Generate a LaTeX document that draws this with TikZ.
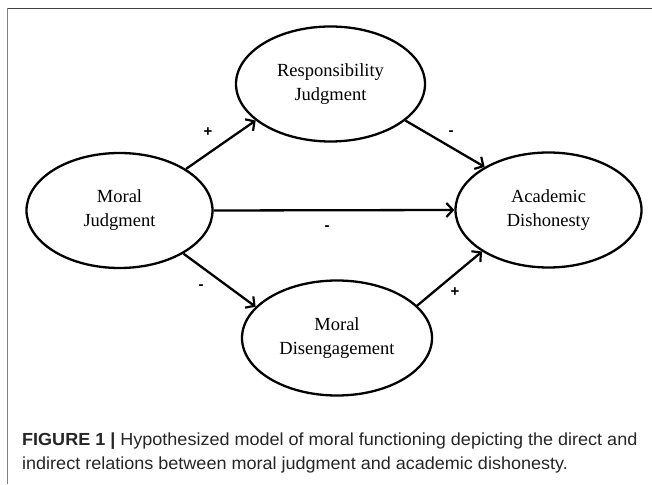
\documentclass[tikz,border=0pt]{standalone}
\usepackage{fontspec}
\setmainfont{Liberation Serif}
\newfontfamily\capfont{Liberation Sans}
\usetikzlibrary{arrows.meta,shapes.geometric}
\begin{document}
\begin{tikzpicture}[x=1pt,y=1pt,
  construct/.style={draw=black, line width=2.3pt, ellipse, inner sep=0pt,
    minimum width=186pt, minimum height=115pt, align=center,
    font=\fontsize{18.5}{24}\selectfont},
  link/.style={draw=black, line width=2.3pt,
    -{Straight Barb[length=6.5pt,width=14pt,line width=2.2pt]}},
  sign/.style={font=\capfont\bfseries\fontsize{15}{15}\selectfont, inner sep=0pt},
  captext/.style={anchor=base west, inner sep=0pt, text=black!85,
    font=\capfont\fontsize{17.5}{17.5}\selectfont}]
\useasboundingbox (0,0) rectangle (652,484);
\fill[white] (0,0) rectangle (652,484);
% panel frame
\draw[draw=black!75, line width=1.6pt] (7.5,475.5) -- (652,475.5);
\draw[draw=black!50, line width=1.2pt] (7.5,0) -- (7.5,476);
% constructs
\node[construct] (mj) at (119.5,273.5) {Moral\\Judgment};
\node[construct, minimum width=189pt] (rj) at (330.5,400) {Responsibility\\Judgment};
\node[construct] (ad) at (548.5,274) {Academic\\Dishonesty};
\node[construct, minimum width=190pt] (md) at (337,146) {Moral\\Disengagement};
% hypothesized paths
\draw[link] (mj.32) -- (rj.206);
\draw[link] (rj.-26) -- (ad.146);
\draw[link] (mj.east) -- (ad.west);
\draw[link] (mj.-34) -- (md.159);
\draw[link] (md.22) -- (ad.212);
% signs of the paths
\node[sign] (s1) at (208,352) {+};
\node[sign] (s2) at (451,351) {-};
\node[sign] (s3) at (327,256) {-};
\node[sign] (s4) at (201,197) {-};
\node[sign] (s5) at (455,192) {+};
% caption
\node[captext] (cap1) at (22,39)
  {\scalebox{1.03}[1]{\textbf{FIGURE 1 |} Hypothesized model of moral functioning depicting the direct and}};
\node[captext] (cap2) at (22,15)
  {\scalebox{1.03}[1]{indirect relations between moral judgment and academic dishonesty.}};
\end{tikzpicture}
\end{document}
